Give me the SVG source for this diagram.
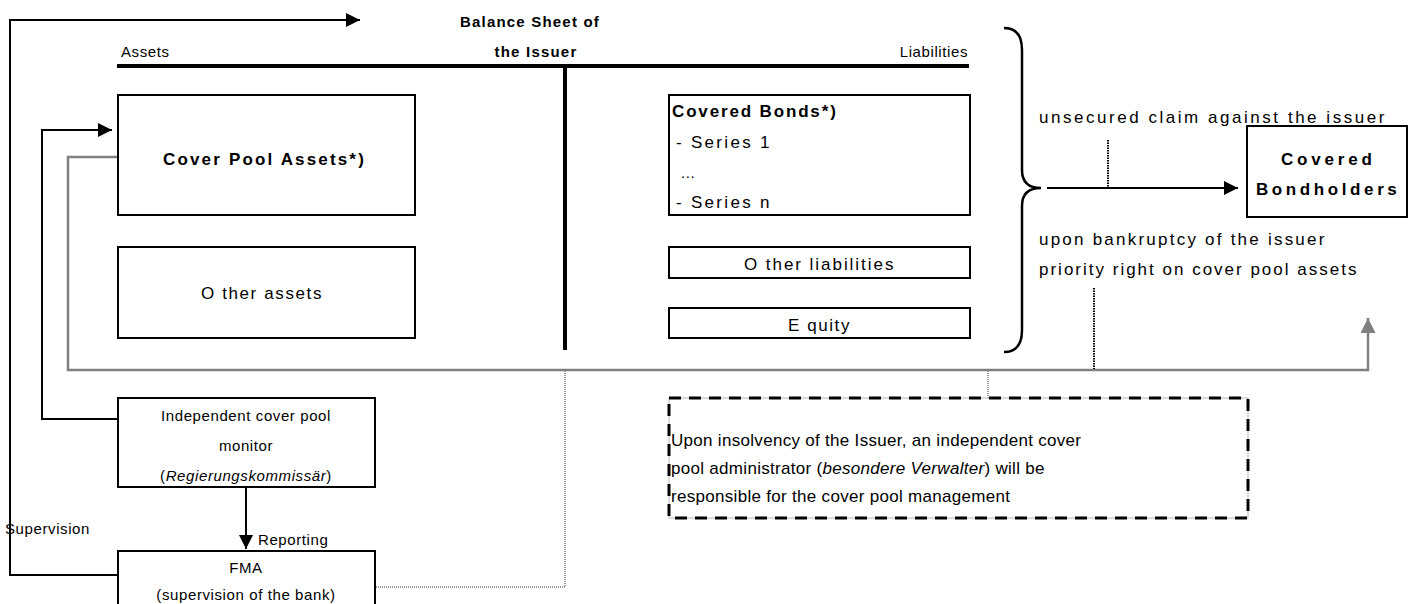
<svg xmlns="http://www.w3.org/2000/svg" width="1415" height="604" viewBox="0 0 1415 604">
<defs>
<marker id="ab2" viewBox="0 0 10 10" refX="10" refY="5" markerWidth="14" markerHeight="14" markerUnits="userSpaceOnUse" orient="auto"><path d="M0,0 L10,5 L0,10 z" fill="#000"/></marker>
<marker id="ag" viewBox="0 0 10 10" refX="10" refY="5" markerWidth="15" markerHeight="15" markerUnits="userSpaceOnUse" orient="auto"><path d="M0,0 L10,5 L0,10 z" fill="#808080"/></marker>
<style>
text{font-family:"Liberation Sans",Arial,sans-serif;font-size:15px;fill:#000;letter-spacing:0.6px}
.b{font-weight:bold;letter-spacing:1.2px}
.m{text-anchor:middle}
.big{font-size:17px}
.adm{font-size:17px;letter-spacing:0.3px}
.box{fill:#fff;stroke:#000;stroke-width:2}
.thick{stroke:#000;stroke-width:4;fill:none}
.blk{stroke:#000;stroke-width:2;fill:none}
.gry{stroke:#808080;stroke-width:2.5;fill:none}
.gdot{stroke:#999;stroke-width:2;stroke-dasharray:1 1;fill:none}
.bdot{stroke:#000;stroke-width:2;stroke-dasharray:1.5 1;fill:none}
</style>
</defs>
<g id="connectors">
<path class="blk" d="M118,575 H10 V20 H360" marker-end="url(#ab2)"/>
<path class="blk" d="M118,419 H42 V130 H112" marker-end="url(#ab2)"/>
<path class="gry" d="M118,157 H68 V370 H1368 V318" marker-end="url(#ag)"/>
<path class="blk" d="M246,487 V549" marker-end="url(#ab2)"/>
<path class="blk" d="M1047,188 H1238" marker-end="url(#ab2)"/>
<path class="gdot" d="M565,371 V587 H376"/>
<path class="gdot" d="M988,371 V398"/>
<path class="bdot" d="M1108,140 V187"/>
<path class="bdot" d="M1094,288 V369"/>
<path d="M1004,28 Q1022,28 1022,50 V170 Q1022,188 1041,188 Q1022,188 1022,206 V330 Q1022,352 1004,352" fill="none" stroke="#000" stroke-width="2.5"/>
</g>
<g id="balance-sheet">
<text class="b m" x="530" y="27">Balance Sheet of</text>
<text class="b m" x="536" y="57">the Issuer</text>
<text x="121" y="57">Assets</text>
<text x="968" y="57" text-anchor="end">Liabilities</text>
<line class="thick" x1="117" y1="66" x2="969" y2="66"/>
<line class="thick" x1="565" y1="66" x2="565" y2="350"/>
</g>
<g id="cover-pool-assets"><rect class="box" x="118" y="95" width="297" height="120"/><text class="b big" x="163" y="165" textLength="202" lengthAdjust="spacing">Cover Pool Assets*)</text></g>
<g id="other-assets"><rect class="box" x="118" y="247" width="297" height="91"/><text class="big" x="201" y="299" textLength="121" lengthAdjust="spacing">O ther assets</text></g>
<g id="covered-bonds"><rect class="box" x="669" y="95" width="301" height="120"/>
<text class="b big" x="672" y="117" textLength="165" lengthAdjust="spacing">Covered Bonds*)</text>
<text class="big" x="676" y="148" textLength="94" lengthAdjust="spacing">- Series 1</text>
<text x="681" y="178">...</text>
<text class="big" x="676" y="208" textLength="94" lengthAdjust="spacing">- Series n</text></g>
<g id="other-liabilities"><rect class="box" x="669" y="247" width="301" height="31"/><text class="big" x="744" y="270" textLength="150" lengthAdjust="spacing">O ther liabilities</text></g>
<g id="equity"><rect class="box" x="669" y="308" width="301" height="30"/><text class="big" x="788" y="331" textLength="62" lengthAdjust="spacing">E quity</text></g>
<g id="covered-bondholders"><rect class="box" x="1247" y="126" width="160" height="91"/>
<text class="b big" x="1281" y="165" textLength="92" lengthAdjust="spacing">Covered</text>
<text class="b big" x="1256" y="195" textLength="142" lengthAdjust="spacing">Bondholders</text></g>
<g id="claims">
<text class="big" x="1039" y="123" textLength="346" lengthAdjust="spacing">unsecured claim against the issuer</text>
<text class="big" x="1039" y="245" textLength="286" lengthAdjust="spacing">upon bankruptcy of the issuer</text>
<text class="big" x="1039" y="275" textLength="318" lengthAdjust="spacing">priority right on cover pool assets</text>
</g>
<g id="monitor"><rect class="box" x="118" y="398" width="257" height="89"/>
<text class="m" x="246" y="421">Independent cover pool</text>
<text class="m" x="246" y="451">monitor</text>
<text class="m" x="246" y="481">(<tspan font-style="italic">Regierungskommissär</tspan>)</text></g>
<g id="fma"><rect class="box" x="118" y="551" width="257" height="60"/>
<text class="m" x="246" y="573">FMA</text>
<text class="m" x="246" y="600">(supervision of the bank)</text></g>
<g id="labels">
<text x="5" y="534" font-size="13">Supervision</text>
<text x="258" y="545" font-size="13">Reporting</text>
</g>
<g id="administrator"><rect x="669" y="398" width="579" height="120" fill="#fff" stroke="#bbb" stroke-width="1"/>
<rect x="669" y="398" width="579" height="120" fill="none" stroke="#000" stroke-width="3" stroke-dasharray="12 8"/>
<text class="adm" x="671" y="446">Upon insolvency of the Issuer, an independent cover</text>
<text class="adm" x="671" y="474">pool administrator (<tspan font-style="italic">besondere Verwalter</tspan>) will be</text>
<text class="adm" x="671" y="502">responsible for the cover pool management</text></g>
</svg>
